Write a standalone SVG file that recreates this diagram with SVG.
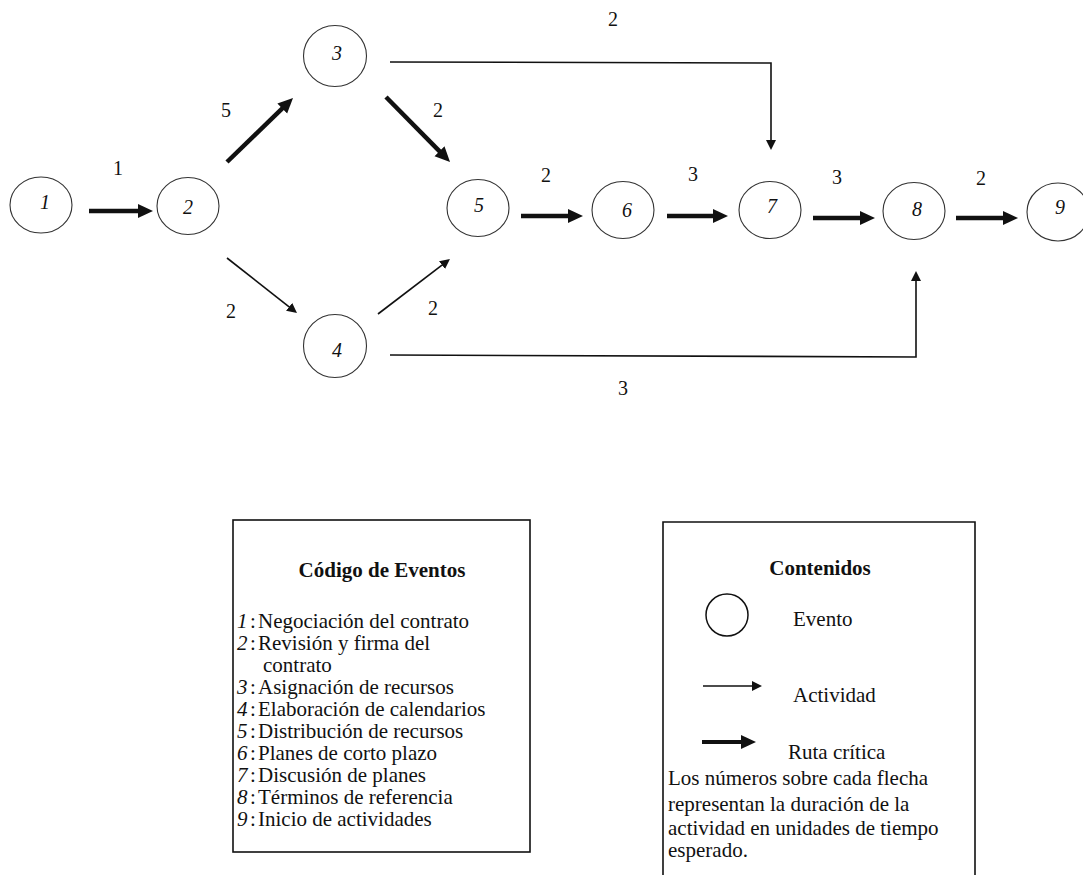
<svg xmlns="http://www.w3.org/2000/svg" width="1083" height="875" viewBox="0 0 1083 875">
  <defs>
    <style>
      .ev { fill: none; stroke: #333; stroke-width: 1.1; }
      .num { font-family: "Liberation Serif", "Times New Roman", serif; font-style: italic; font-size: 20px; text-anchor: middle; fill: #111; }
      .dur { font-family: "Liberation Serif", "Times New Roman", serif; font-size: 20px; text-anchor: middle; fill: #111; }
      .crit { fill: none; stroke: #111; stroke-width: 4.5; marker-end: url(#headThick); }
      .act { fill: none; stroke: #111; stroke-width: 1.6; marker-end: url(#headThin); }
      .box { fill: none; stroke: #111; stroke-width: 1.6; }
      .lg { font-family: "Liberation Serif", "Times New Roman", serif; font-size: 21px; fill: #111; }
      .lgi { font-style: italic; }
      .hd { font-family: "Liberation Serif", "Times New Roman", serif; font-size: 21px; font-weight: bold; text-anchor: middle; fill: #111; }
    </style>
    <marker id="headThick" markerUnits="userSpaceOnUse" markerWidth="16" markerHeight="16" refX="3" refY="7" orient="auto">
      <path d="M0,0 L15,7 L0,14 z" fill="#111"/>
    </marker>
    <marker id="headThin" markerUnits="userSpaceOnUse" markerWidth="12" markerHeight="12" refX="2" refY="5" orient="auto">
      <path d="M0,0 L10,5 L0,10 z" fill="#111"/>
    </marker>
  </defs>

  <rect width="1083" height="875" fill="#ffffff"/>

  <!-- activities -->
  <g id="connectors">
    <path class="crit" d="M89,211 L141,211"/>
    <path class="crit" d="M227,162 L284.4,106.4"/>
    <path class="crit" d="M386,97 L441.6,153.4"/>
    <path class="crit" d="M521,216 L571,216"/>
    <path class="crit" d="M667,216 L716,216"/>
    <path class="crit" d="M813,218 L863,218"/>
    <path class="crit" d="M956,218 L1006,218"/>
    <path class="act" d="M227,258 L290.7,308.1"/>
    <path class="act" d="M378,314 L443.6,263.9"/>
    <path class="act" d="M390,62 L771,63 L771,142"/>
    <path class="act" d="M390,355 L916,357 L916,279"/>

    <text class="dur" x="118" y="175">1</text>
    <text class="dur" x="226" y="117">5</text>
    <text class="dur" x="438" y="117">2</text>
    <text class="dur" x="231" y="318">2</text>
    <text class="dur" x="433" y="315">2</text>
    <text class="dur" x="613" y="26">2</text>
    <text class="dur" x="623" y="395">3</text>
    <text class="dur" x="546" y="182">2</text>
    <text class="dur" x="693" y="181">3</text>
    <text class="dur" x="837" y="184">3</text>
    <text class="dur" x="981" y="185">2</text>
  </g>

  <!-- events -->
  <g id="n1"><ellipse class="ev" cx="41" cy="205" rx="31" ry="28"/><text class="num" x="45" y="209">1</text></g>
  <g id="n2"><ellipse class="ev" cx="188" cy="206" rx="31" ry="28.5"/><text class="num" x="188" y="214">2</text></g>
  <g id="n3"><ellipse class="ev" cx="335" cy="56" rx="31.5" ry="30.5"/><text class="num" x="337" y="60">3</text></g>
  <g id="n4"><ellipse class="ev" cx="335" cy="346" rx="31.5" ry="31.5"/><text class="num" x="337" y="357">4</text></g>
  <g id="n5"><ellipse class="ev" cx="478" cy="208" rx="31" ry="28.5"/><text class="num" x="479" y="212">5</text></g>
  <g id="n6"><ellipse class="ev" cx="623" cy="210" rx="31" ry="28.5"/><text class="num" x="627" y="217">6</text></g>
  <g id="n7"><ellipse class="ev" cx="770" cy="210" rx="31" ry="28.5"/><text class="num" x="772" y="213">7</text></g>
  <g id="n8"><ellipse class="ev" cx="914" cy="211" rx="31" ry="28.5"/><text class="num" x="917" y="216">8</text></g>
  <g id="n9"><ellipse class="ev" cx="1058" cy="212" rx="31" ry="29"/><text class="num" x="1060" y="214">9</text></g>

  <!-- event codes -->
  <g id="codigos">
    <rect class="box" x="233" y="520" width="297" height="332"/>
    <text class="hd" x="382" y="577">Código de Eventos</text>
    <text class="lg"><tspan class="lgi" x="237" y="628">1</tspan><tspan x="250">:</tspan><tspan x="258">Negociación del contrato</tspan></text>
    <text class="lg"><tspan class="lgi" x="237" y="650">2</tspan><tspan x="250">:</tspan><tspan x="258">Revisión y firma del</tspan></text>
    <text class="lg" x="263" y="672">contrato</text>
    <text class="lg"><tspan class="lgi" x="237" y="694">3</tspan><tspan x="250">:</tspan><tspan x="258">Asignación de recursos</tspan></text>
    <text class="lg"><tspan class="lgi" x="237" y="716">4</tspan><tspan x="250">:</tspan><tspan x="258">Elaboración de calendarios</tspan></text>
    <text class="lg"><tspan class="lgi" x="237" y="738">5</tspan><tspan x="250">:</tspan><tspan x="258">Distribución de recursos</tspan></text>
    <text class="lg"><tspan class="lgi" x="237" y="760">6</tspan><tspan x="250">:</tspan><tspan x="258">Planes de corto plazo</tspan></text>
    <text class="lg"><tspan class="lgi" x="237" y="782">7</tspan><tspan x="250">:</tspan><tspan x="258">Discusión de planes</tspan></text>
    <text class="lg"><tspan class="lgi" x="237" y="804">8</tspan><tspan x="250">:</tspan><tspan x="258">Términos de referencia</tspan></text>
    <text class="lg"><tspan class="lgi" x="237" y="826">9</tspan><tspan x="250">:</tspan><tspan x="258">Inicio de actividades</tspan></text>
  </g>

  <!-- key -->
  <g id="contenidos">
    <path class="box" d="M663,880 L663,522 L975,522 L975,880"/>
    <text class="hd" x="820" y="575">Contenidos</text>
    <circle cx="727" cy="615" r="21" fill="none" stroke="#111" stroke-width="1.5"/>
    <text class="lg" x="793" y="626">Evento</text>
    <path d="M703,686 L754,686" fill="none" stroke="#111" stroke-width="1.4" marker-end="url(#headThin)"/>
    <text class="lg" x="793" y="702">Actividad</text>
    <path d="M702,742 L744,742" fill="none" stroke="#111" stroke-width="4" marker-end="url(#headThick)"/>
    <text class="lg" x="788" y="759">Ruta crítica</text>
    <text class="lg" x="668" y="785">Los números sobre cada flecha</text>
    <text class="lg" x="668" y="811">representan la duración de la</text>
    <text class="lg" x="668" y="835">actividad en unidades de tiempo</text>
    <text class="lg" x="668" y="857">esperado.</text>
  </g>
</svg>
